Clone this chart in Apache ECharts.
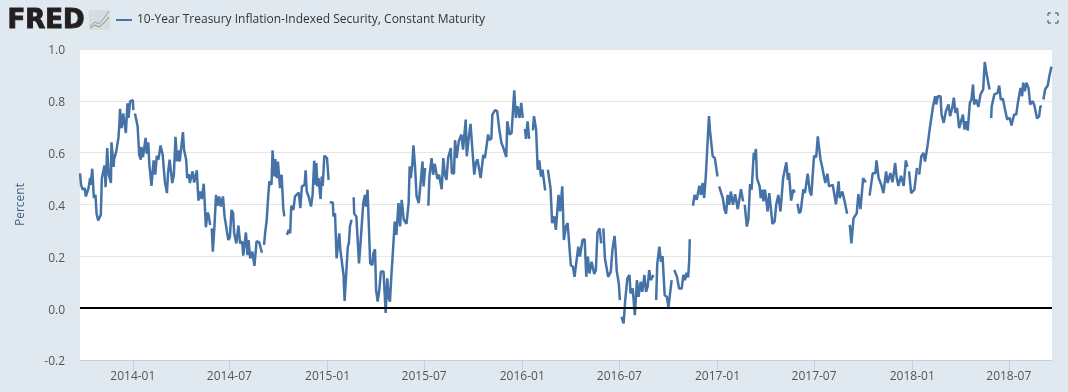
<!DOCTYPE html>
<html>
<head>
<meta charset="utf-8">
<style>
  html, body { margin: 0; padding: 0; background: #e1e9f0; }
  #chart { width: 1068px; height: 392px; }
</style>
<script src="https://cdn.jsdelivr.net/npm/echarts@6/dist/echarts.min.js"></script>
</head>
<body>
<div id="chart"></div>
<script>
const seriesName = "10-Year Treasury Inflation-Indexed Security, Constant Maturity";
const tickMonths = ["2014-01", "2014-07", "2015-01", "2015-07", "2016-01", "2016-07", "2017-01", "2017-07", "2018-01", "2018-07"];
const lastDay = 1822;

// readings as [days since 2013-09-24, percent], each run ends where the line breaks
const run1 = [[0,.52],[2,.476],[5,.457],[9,.463],[11,.431],[16,.463],[19,.502],[20,.476],[23,.538],[26,.425],[29,.437],[31,.366],[34,.338],[39,.36],[41,.502],[44,.502],[46,.55],[48,.467],[51,.618],[54,.515],[58,.483],[59,.64],[63,.545],[64,.575],[68,.605],[72,.657],[74,.715],[75,.769],[78,.695],[81,.751],[86,.676],[89,.79],[91,.734],[94,.799],[99,.803],[100,.764]];
const run2 = [[103,.751],[108,.702],[111,.592],[114,.573],[115,.622],[118,.583],[123,.657],[125,.596],[128,.64],[130,.554],[134,.472],[138,.57],[141,.515],[144,.588],[147,.573],[151,.628],[155,.592],[159,.489],[163,.444],[165,.521],[168,.573],[171,.573],[173,.483],[176,.515],[179,.661],[182,.566],[184,.609],[187,.566],[189,.605],[193,.679],[195,.612],[199,.573],[201,.502],[204,.517],[206,.483],[211,.528],[214,.485],[219,.532],[222,.415],[225,.45],[228,.421],[232,.48],[236,.312],[239,.369],[241,.36],[244,.321]];
const run3 = [[247,.308],[249,.218],[252,.315],[255,.437],[258,.395],[261,.431],[264,.392],[268,.431],[271,.354],[274,.351],[278,.263],[281,.274],[284,.379],[287,.366],[289,.289],[293,.25],[297,.319],[300,.25],[304,.257],[306,.203],[311,.292],[314,.205],[316,.263],[319,.192],[323,.218],[327,.163],[331,.259],[336,.254],[341,.214]];
const run4 = [[345,.244],[347,.289],[350,.341],[353,.437],[355,.489],[359,.476],[361,.609],[364,.508],[366,.575],[369,.502],[371,.566],[375,.463],[378,.515],[381,.386],[383,.354]];
const run5 = [[388,.283],[391,.302],[394,.289],[396,.395],[400,.379],[403,.431],[406,.434],[410,.446],[413,.386],[416,.47],[421,.476],[423,.532],[425,.45],[429,.428],[433,.392],[436,.437],[439,.569],[442,.476],[443,.56],[445,.47],[447,.502],[451,.421],[453,.508],[455,.472],[458,.588],[463,.579],[466,.495]];
const run6 = [[468,.409],[474,.408],[475,.354],[478,.366],[481,.192],[486,.289],[488,.225],[491,.227],[494,.128],[496,.028],[498,.031],[502,.237],[504,.25],[506,.315],[509,.341]];
const run7 = [[513,.428],[514,.364],[518,.354],[523,.173],[526,.257],[529,.263],[531,.405],[534,.437],[536,.392],[539,.457],[544,.173],[548,.166],[550,.212],[553,.227],[555,.07],[558,.025],[561,.07],[564,.141],[569,.141],[573,-.018],[576,.115],[579,.037],[581,.025],[584,.137],[586,.2],[590,.334],[593,.283],[597,.405],[600,.315],[603,.418],[607,.341],[612,.325],[616,.405],[618,.547],[620,.502],[623,.556],[625,.628],[628,.547],[631,.431],[635,.405],[639,.495],[642,.566],[644,.47],[647,.541]];
const run8 = [[653,.395],[655,.508],[659,.579],[662,.515],[665,.557],[670,.498],[673,.515],[678,.459],[681,.579],[684,.515],[687,.495],[690,.579],[695,.618],[697,.521],[701,.519],[703,.648],[706,.579],[710,.644],[715,.67],[718,.612],[723,.728],[725,.586],[729,.663],[732,.711],[735,.708],[739,.515],[742,.56],[745,.575],[751,.502],[756,.592],[759,.579],[765,.67],[767,.65],[771,.653],[773,.747],[778,.764],[782,.76],[786,.689],[790,.637],[793,.622],[799,.583],[801,.721],[805,.67],[809,.676],[814,.841],[817,.734],[820,.779],[824,.734],[827,.792],[830,.734]];
const run9 = [[834,.692],[836,.653],[839,.721],[842,.653]];
const run10 = [[849,.686],[851,.741],[855,.689],[858,.534],[861,.57],[864,.508],[867,.534],[872,.454]];
const run11 = [[877,.534],[882,.463],[885,.328],[889,.354],[892,.302],[897,.437],[900,.373],[904,.47],[907,.263],[911,.315],[914,.328],[917,.328],[920,.166],[924,.16],[927,.121],[934,.237],[937,.199],[942,.263],[946,.266],[949,.121],[952,.199],[955,.134],[959,.179],[964,.132],[967,.147],[970,.292],[974,.308],[977,.25]];
const run12 = [[981,.308],[984,.192],[987,.192],[990,.121],[995,.141],[998,.225],[1002,.279],[1004,.225],[1006,.145],[1010,.095],[1012,.031]];
const run13 = [[1015,-.034],[1019,-.059],[1022,.031],[1026,.115],[1030,.128],[1032,.057],[1036,.076],[1040,-.027],[1044,.108],[1047,.044],[1051,.102],[1054,.063],[1058,.128],[1061,.063],[1064,.083],[1067,.147],[1070,.108],[1075,.128]];
const run14 = [[1080,.031],[1082,.17],[1086,.237],[1089,.179],[1092,.201],[1096,.05],[1100,.044],[1103,.003],[1105,.003],[1109,.108]];
const run15 = [[1114,.147],[1119,.121],[1123,.076],[1128,.076],[1131,.128],[1134,.108],[1137,.137],[1140,.119],[1142,.186],[1143,.266]];
const run16 = [[1149,.395],[1152,.437],[1156,.418],[1161,.472],[1164,.437],[1167,.483],[1170,.425],[1173,.508],[1176,.511],[1179,.741],[1181,.683],[1186,.586],[1190,.579],[1195,.508]];
const run17 = [[1198,.47],[1200,.47],[1205,.425],[1208,.382],[1211,.364],[1214,.437],[1217,.399],[1220,.45],[1224,.399],[1228,.44],[1233,.382],[1239,.459],[1243,.412]];
const run18 = [[1246,.399],[1250,.315],[1253,.343],[1256,.479],[1259,.457],[1263,.599],[1264,.573],[1267,.614],[1269,.502],[1274,.47],[1276,.425],[1279,.457],[1281,.412],[1284,.457],[1289,.373],[1292,.444],[1295,.441],[1298,.325],[1302,.334],[1305,.399],[1309,.437],[1313,.373],[1318,.502],[1321,.508],[1324,.563],[1327,.495],[1329,.521],[1333,.415],[1337,.457],[1340,.446]];
const run19 = [[1345,.403],[1348,.366],[1351,.375],[1356,.459],[1359,.444],[1364,.519],[1368,.45],[1371,.435],[1373,.502],[1376,.588],[1380,.583],[1383,.663],[1386,.663],[1388,.575],[1391,.547],[1397,.483],[1401,.519],[1404,.47],[1411,.476],[1417,.401],[1422,.489],[1424,.425],[1429,.45],[1433,.415],[1438,.364]];
const run20 = [[1443,.321],[1446,.25],[1450,.347],[1456,.366],[1459,.44],[1463,.382],[1468,.502],[1471,.508],[1473,.485]];
const run21 = [[1480,.434],[1486,.521],[1491,.521],[1493,.57],[1497,.502],[1502,.476],[1506,.444],[1511,.528],[1514,.483],[1519,.521],[1523,.486],[1528,.56],[1531,.502],[1534,.472],[1539,.511],[1544,.472],[1548,.57],[1551,.545]];
const run22 = [[1554,.528],[1558,.444],[1564,.457],[1569,.541]];
const run23 = [[1573,.515],[1577,.586],[1581,.599],[1584,.566],[1589,.631],[1593,.695],[1596,.695],[1599,.779],[1603,.818],[1605,.786],[1608,.818],[1613,.818],[1615,.747],[1619,.715],[1623,.76],[1628,.786],[1631,.741],[1635,.773],[1638,.812],[1641,.754],[1644,.773],[1648,.695],[1651,.689],[1655,.747],[1658,.689],[1661,.721],[1664,.685],[1668,.792],[1671,.805],[1674,.863],[1676,.786],[1680,.805],[1684,.777],[1688,.825],[1693,.844],[1696,.95],[1699,.908],[1702,.908],[1705,.844]];
const run24 = [[1708,.734],[1709,.779],[1714,.825],[1720,.831],[1723,.859],[1726,.805],[1730,.808],[1734,.766],[1738,.728],[1743,.734],[1746,.705],[1751,.747],[1755,.747],[1758,.792],[1763,.85],[1766,.818],[1768,.87],[1771,.837],[1774,.87],[1778,.85],[1781,.786],[1786,.799],[1789,.782],[1794,.732],[1798,.741],[1800,.777],[1803,.779]];
const run25 = [[1806,.805],[1809,.844],[1814,.859],[1817,.895],[1819,.895],[1821,.932]];
const runs = [run1, run2, run3, run4, run5, run6, run7, run8, run9, run10, run11, run12, run13, run14, run15, run16, run17, run18, run19, run20, run21, run22, run23, run24, run25];

const DAY = 86400000;
const startTime = Date.UTC(2013, 8, 24);

function dayToTime(day) {
  return startTime + day * DAY;
}

function monthToTime(text) {
  const parts = text.split("-");
  return Date.UTC(+parts[0], +parts[1] - 1, 1);
}

// a null between two runs leaves the gap in the line
const lineData = [];
runs.forEach(function (run, i) {
  run.forEach(function (r) {
    lineData.push([dayToTime(r[0]), r[1]]);
  });
  if (i < runs.length - 1) {
    lineData.push([dayToTime(run[run.length - 1][0] + 1), null]);
  }
});

const tickTimes = tickMonths.map(monthToTime);
const fontFamily = '"Open Sans", sans-serif';

const chart = echarts.init(document.getElementById("chart"), null, { renderer: "canvas" });

// time axis chokes on customValues here, so x is a plain value axis in ms
chart.setOption({
  animation: false,
  backgroundColor: "#e1e9f0",
  grid: { left: 80, right: 16, top: 49, bottom: 32, backgroundColor: "#ffffff", show: true, borderWidth: 0 },
  xAxis: {
    type: "value",
    min: startTime,
    max: dayToTime(lastDay),
    axisLine: { onZero: false, lineStyle: { color: "#c0d0e0", width: 1 } },
    axisTick: { show: true, customValues: tickTimes, length: 10, lineStyle: { color: "#c0d0e0" } },
    axisLabel: {
      customValues: tickTimes,
      color: "#555555",
      fontFamily,
      fontSize: 12,
      margin: 11,
      formatter: function (value) {
        return tickMonths[tickTimes.indexOf(value)] || "";
      }
    },
    splitLine: { show: false }
  },
  yAxis: {
    type: "value",
    min: -0.2,
    max: 1,
    interval: 0.2,
    name: "Percent",
    nameLocation: "middle",
    nameGap: 53,
    nameRotate: 90,
    nameTextStyle: { color: "#3e5f80", fontFamily, fontSize: 12 },
    axisLine: { show: false },
    axisTick: { show: false },
    axisLabel: {
      color: "#555555",
      fontFamily,
      fontSize: 12,
      margin: 15,
      // labels sit a little below their gridline in the reference
      verticalAlign: "top",
      lineHeight: 4,
      formatter: function (value) {
        return value.toFixed(1);
      }
    },
    splitLine: { lineStyle: { color: "#e6e6e6", width: 1 } }
  },
  series: [
    {
      name: seriesName,
      type: "line",
      data: lineData,
      showSymbol: false,
      connectNulls: false,
      lineStyle: { color: "#4572a7", width: 2.5 },
      itemStyle: { color: "#4572a7" },
      markLine: {
        silent: true,
        symbol: "none",
        label: { show: false },
        lineStyle: { color: "#000000", width: 2, type: "solid" },
        data: [{ yAxis: 0 }]
      }
    }
  ],
  graphic: [
    { type: "text", left: 7, top: 8, style: { text: "FRED", font: "bold 26px 'DejaVu Sans'", fill: "#231f20", stroke: "#231f20", lineWidth: 1 } },
    { type: "rect", shape: { x: 89, y: 10, width: 21, height: 20, r: 2 }, style: { fill: "#d6dcdf" } },
    { type: "polyline", shape: { points: [[90, 26], [95, 22], [99, 24], [104, 18], [109, 11]] }, style: { stroke: "#8fa6b8", fill: null, lineWidth: 1 } },
    { type: "polyline", shape: { points: [[90, 28], [95, 25], [99, 27], [104, 23], [109, 17]] }, style: { stroke: "#7fa84f", fill: null, lineWidth: 1 } },
    { type: "line", shape: { x1: 116, y1: 20, x2: 132, y2: 20 }, style: { stroke: "#4572a7", lineWidth: 2 } },
    { type: "text", left: 137, top: 14, style: { text: seriesName, font: "12px " + fontFamily, fill: "#333333" } },
    { type: "polyline", shape: { points: [[1048, 16], [1048, 13], [1051, 13]] }, style: { stroke: "#34495e", fill: null, lineWidth: 1 } },
    { type: "polyline", shape: { points: [[1055, 13], [1058, 13], [1058, 16]] }, style: { stroke: "#34495e", fill: null, lineWidth: 1 } },
    { type: "polyline", shape: { points: [[1048, 20], [1048, 23], [1051, 23]] }, style: { stroke: "#34495e", fill: null, lineWidth: 1 } },
    { type: "polyline", shape: { points: [[1055, 23], [1058, 23], [1058, 20]] }, style: { stroke: "#34495e", fill: null, lineWidth: 1 } }
  ]
});
</script>
</body>
</html>
